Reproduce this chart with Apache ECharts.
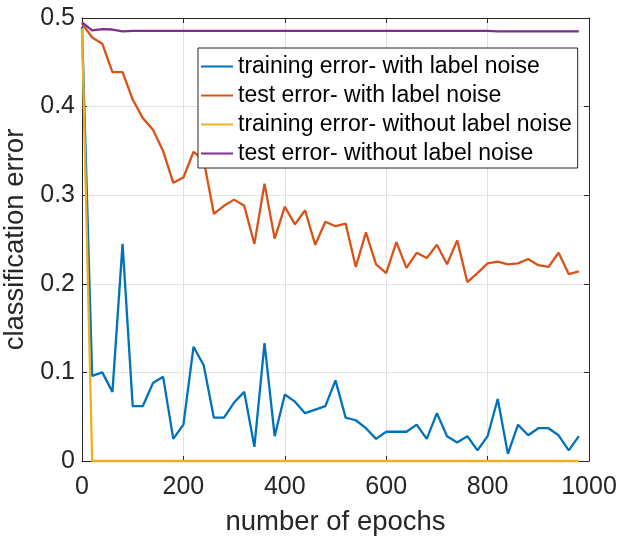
<!DOCTYPE html>
<html>
<head>
<meta charset="utf-8">
<script src="https://cdn.jsdelivr.net/npm/echarts@6/dist/echarts.min.js"></script>
<style>
  html, body { margin: 0; padding: 0; background: #fff; }
  #chart { width: 619px; height: 537px; }
</style>
</head>
<body>
<div id="chart"></div>
<script>
const epochs = [0, 20, 40, 60, 80, 100, 120, 140, 160, 180,
  200, 220, 240, 260, 280, 300, 320, 340, 360, 380,
  400, 420, 440, 460, 480, 500, 520, 540, 560, 580,
  600, 620, 640, 660, 680, 700, 720, 740, 760, 780,
  800, 820, 840, 860, 880, 900, 920, 940, 960, 980];

// training error - with label noise
const trainNoise = [0.490, 0.096, 0.100, 0.078, 0.245, 0.062, 0.062, 0.088, 0.095, 0.025,
  0.041, 0.129, 0.108, 0.049, 0.049, 0.066, 0.078, 0.016, 0.133, 0.028,
  0.075, 0.067, 0.054, 0.058, 0.062, 0.091, 0.049, 0.046, 0.037, 0.025,
  0.033, 0.033, 0.033, 0.041, 0.025, 0.054, 0.028, 0.021, 0.028, 0.012,
  0.028, 0.070, 0.008, 0.041, 0.029, 0.037, 0.037, 0.029, 0.012, 0.028];

// test error - with label noise
const testNoise = [0.494, 0.478, 0.471, 0.439, 0.439, 0.408, 0.387, 0.374, 0.350, 0.314,
  0.320, 0.349, 0.340, 0.279, 0.288, 0.295, 0.288, 0.245, 0.313, 0.251,
  0.287, 0.267, 0.283, 0.244, 0.270, 0.265, 0.268, 0.219, 0.258, 0.222,
  0.212, 0.247, 0.218, 0.235, 0.229, 0.244, 0.222, 0.249, 0.202, 0.212,
  0.223, 0.225, 0.222, 0.223, 0.228, 0.221, 0.219, 0.235, 0.211, 0.214];

// training error - without label noise
const trainClean = [0.488, 0, 0, 0, 0, 0, 0, 0, 0, 0,
  0, 0, 0, 0, 0, 0, 0, 0, 0, 0,
  0, 0, 0, 0, 0, 0, 0, 0, 0, 0,
  0, 0, 0, 0, 0, 0, 0, 0, 0, 0,
  0, 0, 0, 0, 0, 0, 0, 0, 0, 0];

// test error - without label noise
const testClean = [0.495, 0.486, 0.4875, 0.487, 0.485, 0.4855, 0.4855, 0.4855, 0.4855, 0.4855,
  0.4855, 0.4855, 0.4855, 0.4855, 0.4855, 0.4855, 0.4855, 0.4855, 0.4855, 0.4855,
  0.4855, 0.4855, 0.4855, 0.4855, 0.4855, 0.4855, 0.4855, 0.4855, 0.4855, 0.4855,
  0.4855, 0.4855, 0.4855, 0.4855, 0.4855, 0.4855, 0.4855, 0.4855, 0.4855, 0.4855,
  0.4855, 0.485, 0.485, 0.485, 0.485, 0.485, 0.485, 0.485, 0.485, 0.485];

const xTicks = [0, 200, 400, 600, 800, 1000];
const yTicks = [0, 0.1, 0.2, 0.3, 0.4, 0.5];

const names = [
  'training error- with label noise',
  'test error- with label noise',
  'training error- without label noise',
  'test error- without label noise'
];
const colors = ['#0072BD', '#D95319', '#EDB120', '#7E2F8E'];
const values = [trainNoise, testNoise, trainClean, testClean];

const font = 'Liberation Sans, Arial, Helvetica, sans-serif';
const axisColor = '#262626';

function pairs(ys) {
  return epochs.map((e, i) => [e, ys[i]]);
}

const baseX = {
  type: 'value',
  min: xTicks[0],
  max: xTicks[xTicks.length - 1],
  interval: 200,
  axisLine: { show: true, onZero: false, lineStyle: { color: axisColor, width: 1 } },
  axisTick: { show: true, inside: true, length: 5, lineStyle: { color: axisColor } },
  splitLine: { show: false }
};
const baseY = {
  type: 'value',
  min: yTicks[0],
  max: yTicks[yTicks.length - 1],
  interval: 0.1,
  axisLine: { show: true, onZero: false, lineStyle: { color: axisColor, width: 1 } },
  axisTick: { show: true, inside: true, length: 5, lineStyle: { color: axisColor } },
  splitLine: { show: false }
};

const option = {
  animation: false,
  backgroundColor: '#fff',
  grid: { left: 82, right: 30, top: 18, bottom: 76, containLabel: false, outerBoundsMode: 'none' },
  legend: {
    orient: 'vertical',
    left: 198,
    top: 48,
    padding: [6, 6, 2, 3],
    itemGap: 4,
    itemWidth: 32,
    itemHeight: 2,
    icon: 'rect',
    backgroundColor: '#fff',
    borderColor: axisColor,
    borderWidth: 1,
    borderRadius: 0,
    textStyle: { fontFamily: font, fontSize: 23, lineHeight: 25, color: '#000' },
    data: names
  },
  xAxis: [
    Object.assign({}, baseX, {
      position: 'bottom',
      name: 'number of epochs',
      nameLocation: 'middle',
      nameGap: 47,
      nameTextStyle: { fontFamily: font, fontSize: 27.5, color: axisColor },
      axisLabel: { fontFamily: font, fontSize: 25, color: axisColor, margin: 14,
        formatter: v => String(v) },
      splitLine: { show: true, lineStyle: { color: '#e3e3e3', width: 1 } }
    }),
    Object.assign({}, baseX, { position: 'top', axisLabel: { show: false } })
  ],
  yAxis: [
    Object.assign({}, baseY, {
      position: 'left',
      name: 'classification error',
      nameLocation: 'middle',
      nameGap: 40,
      nameTextStyle: { fontFamily: font, fontSize: 27.5, color: axisColor },
      axisLabel: { fontFamily: font, fontSize: 25, color: axisColor, margin: 7 },
      splitLine: { show: true, lineStyle: { color: '#e3e3e3', width: 1 } }
    }),
    Object.assign({}, baseY, { position: 'right', axisLabel: { show: false } })
  ],
  series: names.map((n, i) => ({
    name: n,
    type: 'line',
    xAxisIndex: 0,
    yAxisIndex: 0,
    data: pairs(values[i]),
    showSymbol: false,
    symbol: 'none',
    clip: false,
    color: colors[i],
    lineStyle: { color: colors[i], width: 2.3 }
  }))
};

const chart = echarts.init(document.getElementById('chart'), null, { renderer: 'canvas' });
chart.setOption(option);
</script>
</body>
</html>
